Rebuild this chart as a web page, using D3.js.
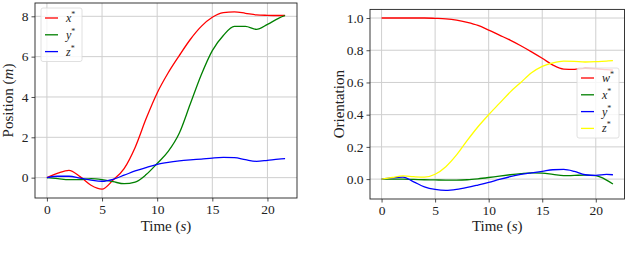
<!DOCTYPE html>
<html>
<head>
<meta charset="utf-8">
<script src="https://cdn.jsdelivr.net/npm/d3@7"></script>
<style>
  body { margin: 0; background: #fff; }
  svg { display: block; }
  text { font-family: "Liberation Serif", "DejaVu Serif", serif; }
</style>
</head>
<body>
<svg id="chart" width="626" height="268"></svg>
<script>
// time samples (s)
var timeSamples = [0, 1, 2, 3, 4, 5, 6, 7, 8, 9, 10, 11, 12, 13, 14, 15, 16, 17, 18, 19, 20, 21, 21.6];

// position (m)
var posX = [0, 0.22, 0.36, 0.05, -0.38, -0.57, -0.12, 0.45, 1.5, 2.93, 4.2, 5.2, 6.05, 6.85, 7.5, 7.95, 8.18, 8.22, 8.15, 8.07, 8.05, 8.04, 8.04];
var posY = [0, -0.05, -0.1, -0.1, -0.05, -0.1, -0.2, -0.3, -0.22, 0.15, 0.7, 1.3, 2.2, 3.65, 5.1, 6.3, 7.05, 7.5, 7.5, 7.35, 7.6, 7.9, 8.04];
var posZ = [0, 0.07, 0.07, -0.02, -0.12, -0.18, -0.08, 0.12, 0.33, 0.5, 0.66, 0.76, 0.83, 0.88, 0.92, 0.97, 1.0, 0.99, 0.89, 0.81, 0.86, 0.92, 0.94];

// orientation (quaternion)
var quatW = [1, 1, 1, 1, 1, 0.998, 0.995, 0.987, 0.973, 0.954, 0.925, 0.894, 0.863, 0.828, 0.79, 0.75, 0.708, 0.683, 0.681, 0.687, 0.685, 0.68, 0.677];
var quatX = [0, 0, 0, -0.002, -0.004, -0.005, -0.006, -0.006, -0.004, 0.002, 0.01, 0.019, 0.027, 0.034, 0.039, 0.037, 0.029, 0.021, 0.023, 0.025, 0.021, -0.006, -0.03];
var quatY = [0, 0.008, 0.012, -0.017, -0.048, -0.064, -0.07, -0.064, -0.052, -0.037, -0.021, -0.002, 0.015, 0.029, 0.039, 0.048, 0.058, 0.06, 0.048, 0.027, 0.023, 0.029, 0.027];
var quatZ = [0, 0.01, 0.02, 0.015, 0.012, 0.03, 0.077, 0.15, 0.24, 0.325, 0.40, 0.47, 0.54, 0.60, 0.66, 0.70, 0.722, 0.733, 0.731, 0.727, 0.729, 0.733, 0.735];

var xTicks = [0, 5, 10, 15, 20];
var posTicks = [0, 2, 4, 6, 8];
var quatTicks = [0, 0.2, 0.4, 0.6, 0.8, 1.0];

var svg = d3.select("#chart");

// matplotlib style 5% padding
function padded(vals){
	var ext = d3.extent(vals);
	var m = (ext[1] - ext[0]) * 0.05;
	return [ext[0] - m, ext[1] + m];
}

function drawPanel(p){
	var g = svg.append("g");
	var x = d3.scaleLinear().domain(padded(timeSamples)).range([p.left, p.right]);
	var allVals = [].concat.apply([], p.series.map(s => s.values));
	var y = d3.scaleLinear().domain(padded(allVals)).range([p.bottom, p.top]);

	//grid
	g.append("g").selectAll("line").data(xTicks).join("line")
		.attr("x1", d => x(d)).attr("x2", d => x(d))
		.attr("y1", p.top).attr("y2", p.bottom)
		.attr("stroke", "#cfcfcf").attr("stroke-width", 1);
	g.append("g").selectAll("line").data(p.yTicks).join("line")
		.attr("x1", p.left).attr("x2", p.right)
		.attr("y1", d => y(d)).attr("y2", d => y(d))
		.attr("stroke", "#cfcfcf").attr("stroke-width", 1);

	//lines
	var line = d3.line()
		.x((d, i) => x(timeSamples[i]))
		.y(d => y(d))
		.curve(d3.curveMonotoneX);
	g.append("g").attr("fill", "none").attr("stroke-width", 1.3)
		.selectAll("path").data(p.series).join("path")
		.attr("stroke", d => d.color)
		.attr("d", d => line(d.values));

	//axes
	var xAxis = g.append("g")
		.attr("transform", `translate(0,${p.bottom})`)
		.call(d3.axisBottom(x).tickValues(xTicks).tickSize(3.5).tickPadding(3));
	var yAxis = g.append("g")
		.attr("transform", `translate(${p.left},0)`)
		.call(d3.axisLeft(y).tickValues(p.yTicks).tickSize(3.5).tickPadding(3).tickFormat(p.fmt));
	[xAxis, yAxis].forEach(function(a){
		a.attr("font-family", null);
		a.select(".domain").remove();
		a.selectAll("line").attr("stroke", "#222").attr("stroke-width", 0.8);
		a.selectAll("text")
			.style("font-family", "'Liberation Serif', serif")
			.style("font-size", "13.5px")
			.attr("fill", "#222");
	});

	//frame
	g.append("rect")
		.attr("x", p.left).attr("y", p.top)
		.attr("width", p.right - p.left).attr("height", p.bottom - p.top)
		.attr("fill", "none").attr("stroke", "#222").attr("stroke-width", 0.9);

	//axis labels
	var xl = g.append("text")
		.attr("x", (p.left + p.right) / 2).attr("y", 231)
		.attr("text-anchor", "middle").attr("font-size", 15).attr("fill", "#222");
	xl.append("tspan").text("Time (");
	xl.append("tspan").attr("font-style", "italic").text("s");
	xl.append("tspan").text(")");

	var yl = g.append("text")
		.attr("transform", `translate(${p.yLabelX},${(p.top + p.bottom) / 2}) rotate(-90)`)
		.attr("text-anchor", "middle").attr("font-size", 15).attr("fill", "#222");
	p.yLabel.forEach(function(part){
		yl.append("tspan").attr("font-style", part.italic ? "italic" : null).text(part.t);
	});

	//legend
	var lg = g.append("g").attr("transform", `translate(${p.legend.x},${p.legend.y})`);
	lg.append("rect")
		.attr("width", p.legend.w).attr("height", p.series.length * 16.5 + 4)
		.attr("rx", 2).attr("fill", "white").attr("fill-opacity", 0.8)
		.attr("stroke", "#d8d8d8").attr("stroke-width", 0.8);
	var items = lg.selectAll("g.item").data(p.series).join("g")
		.attr("class", "item")
		.attr("transform", (d, i) => `translate(0,${10 + i * 16.8})`);
	items.append("line")
		.attr("x1", 4).attr("x2", 17)
		.attr("stroke", d => d.color).attr("stroke-width", 1.3);
	var it = items.append("text")
		.attr("x", 25).attr("y", 4)
		.attr("font-size", 12).attr("fill", "#222");
	it.append("tspan").attr("font-style", "italic").text(d => d.name);
	it.append("tspan").attr("font-size", 8).attr("dy", -5).text("*");
}

drawPanel({
	left: 35, right: 297, top: 3, bottom: 198,
	yTicks: posTicks, fmt: d3.format("d"),
	yLabelX: 13,
	yLabel: [{t: "Position ("}, {t: "m", italic: true}, {t: ")"}],
	legend: {x: 41, y: 8, w: 41},
	series: [
		{name: "x", color: "red", values: posX},
		{name: "y", color: "green", values: posY},
		{name: "z", color: "blue", values: posZ}
	]
});

drawPanel({
	left: 370, right: 624.5, top: 9.4, bottom: 199,
	yTicks: quatTicks, fmt: d3.format(".1f"),
	yLabelX: 344,
	yLabel: [{t: "Orientation"}],
	legend: {x: 577, y: 68, w: 42},
	series: [
		{name: "w", color: "red", values: quatW},
		{name: "x", color: "green", values: quatX},
		{name: "y", color: "blue", values: quatY},
		{name: "z", color: "yellow", values: quatZ}
	]
});
</script>
</body>
</html>
